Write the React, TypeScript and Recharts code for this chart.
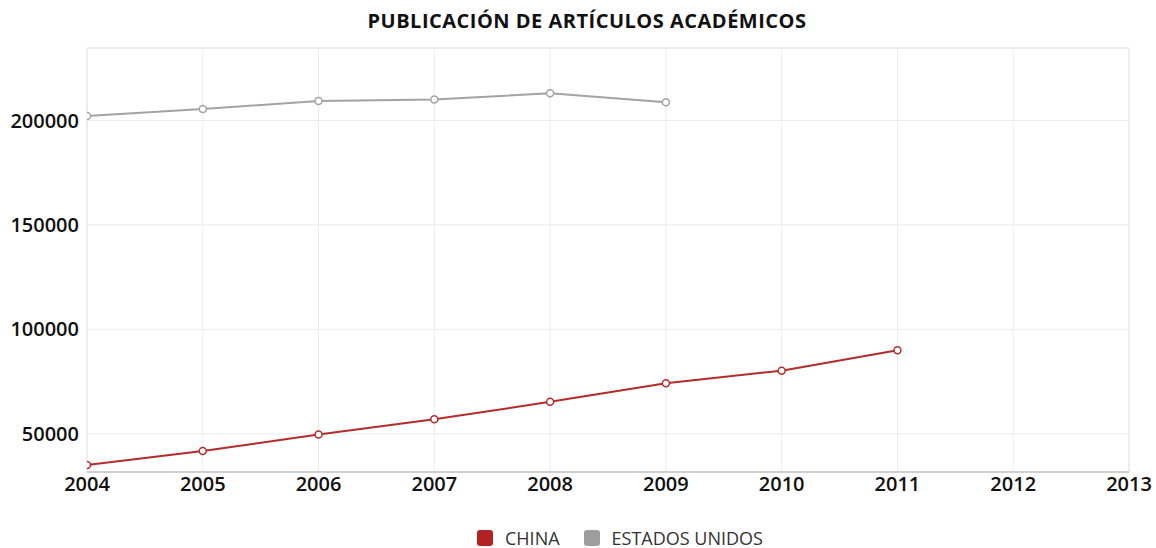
import React from "react";
import {
  LineChart,
  Line,
  XAxis,
  YAxis,
  CartesianGrid,
  ReferenceArea,
  Legend,
} from "recharts";

const years = [2004, 2005, 2006, 2007, 2008, 2009, 2010, 2011];
const chinaValues = [35000, 41700, 49700, 56900, 65300, 74200, 80200, 90000];
const usaValues = [202100, 205500, 209300, 210000, 213000, 208700, null, null];
const xTicks = [2004, 2005, 2006, 2007, 2008, 2009, 2010, 2011, 2012, 2013];
const yTicks = [50000, 100000, 150000, 200000];

const seriesInfo = [
  { key: "china", label: "CHINA", color: "#b52b2b", swatch: "#b22222" },
  { key: "usa", label: "ESTADOS UNIDOS", color: "#a3a3a3", swatch: "#9e9e9e" },
];

const data = years.map((year, i) => ({
  year,
  china: chinaValues[i],
  usa: usaValues[i],
}));

const FONT = "'Open Sans', sans-serif";

function LegendContent() {
  return (
    <div
      style={{
        display: "flex",
        justifyContent: "flex-start",
        alignItems: "center",
        paddingLeft: 477,
        gap: 24,
        fontFamily: FONT,
        fontSize: 18,
        color: "#333",
        height: 24,
      }}
    >
      {seriesInfo.map((s) => (
        <div key={s.key} style={{ display: "flex", alignItems: "center" }}>
          <span
            style={{
              width: 16,
              height: 16,
              borderRadius: 3,
              background: s.swatch,
              display: "inline-block",
              marginRight: 12,
            }}
          />
          <span>{s.label}</span>
        </div>
      ))}
    </div>
  );
}

export default function App() {
  return (
    <div style={{ position: "absolute", left: 0, top: 0, width: 1156, height: 548, background: "#fff" }}>
      <div
        style={{
          position: "absolute",
          top: 7,
          left: 9,
          width: 1156,
          textAlign: "center",
          fontFamily: FONT,
          fontWeight: 700,
          fontSize: 20,
          letterSpacing: 0.5,
          color: "#111",
        }}
      >
        PUBLICACIÓN DE ARTÍCULOS ACADÉMICOS
      </div>
      <LineChart
        width={1156}
        height={548}
        data={data}
        margin={{ top: 48, right: 27, left: 0, bottom: 22 }}
      >
        <CartesianGrid stroke="#ebebeb" strokeWidth={1} />
        <ReferenceArea
          x1={2004}
          x2={2013}
          y1={31700}
          y2={234700}
          fill="none"
          stroke="#e6e6e6"
          ifOverflow="extendDomain"
        />
        <XAxis
          dataKey="year"
          type="number"
          domain={[2004, 2013]}
          ticks={xTicks}
          allowDataOverflow
          tickLine={false}
          tickSize={0}
          tickMargin={5}
          axisLine={{ stroke: "#cfcfcf", strokeWidth: 2 }}
          height={30}
          tick={{ fill: "#111", fontFamily: FONT, fontSize: 20, fontWeight: 600 }}
        />
        <YAxis
          type="number"
          domain={[31700, 234700]}
          ticks={yTicks}
          allowDataOverflow
          tickLine={false}
          axisLine={false}
          tickSize={0}
          tickMargin={8}
          width={87}
          tick={{ fill: "#111", fontFamily: FONT, fontSize: 20, fontWeight: 600 }}
        />
        <Legend
          verticalAlign="bottom"
          content={<LegendContent />}
          wrapperStyle={{ bottom: -2, left: 0, width: 1156 }}
        />
        {seriesInfo.map((s) => (
          <Line
            key={s.key}
            dataKey={s.key}
            stroke={s.color}
            strokeWidth={2}
            dot={{ r: 3.5, fill: "#fff", stroke: s.color, strokeWidth: 1.5 }}
            activeDot={false}
            connectNulls={false}
            isAnimationActive={false}
          />
        ))}
      </LineChart>
    </div>
  );
}
